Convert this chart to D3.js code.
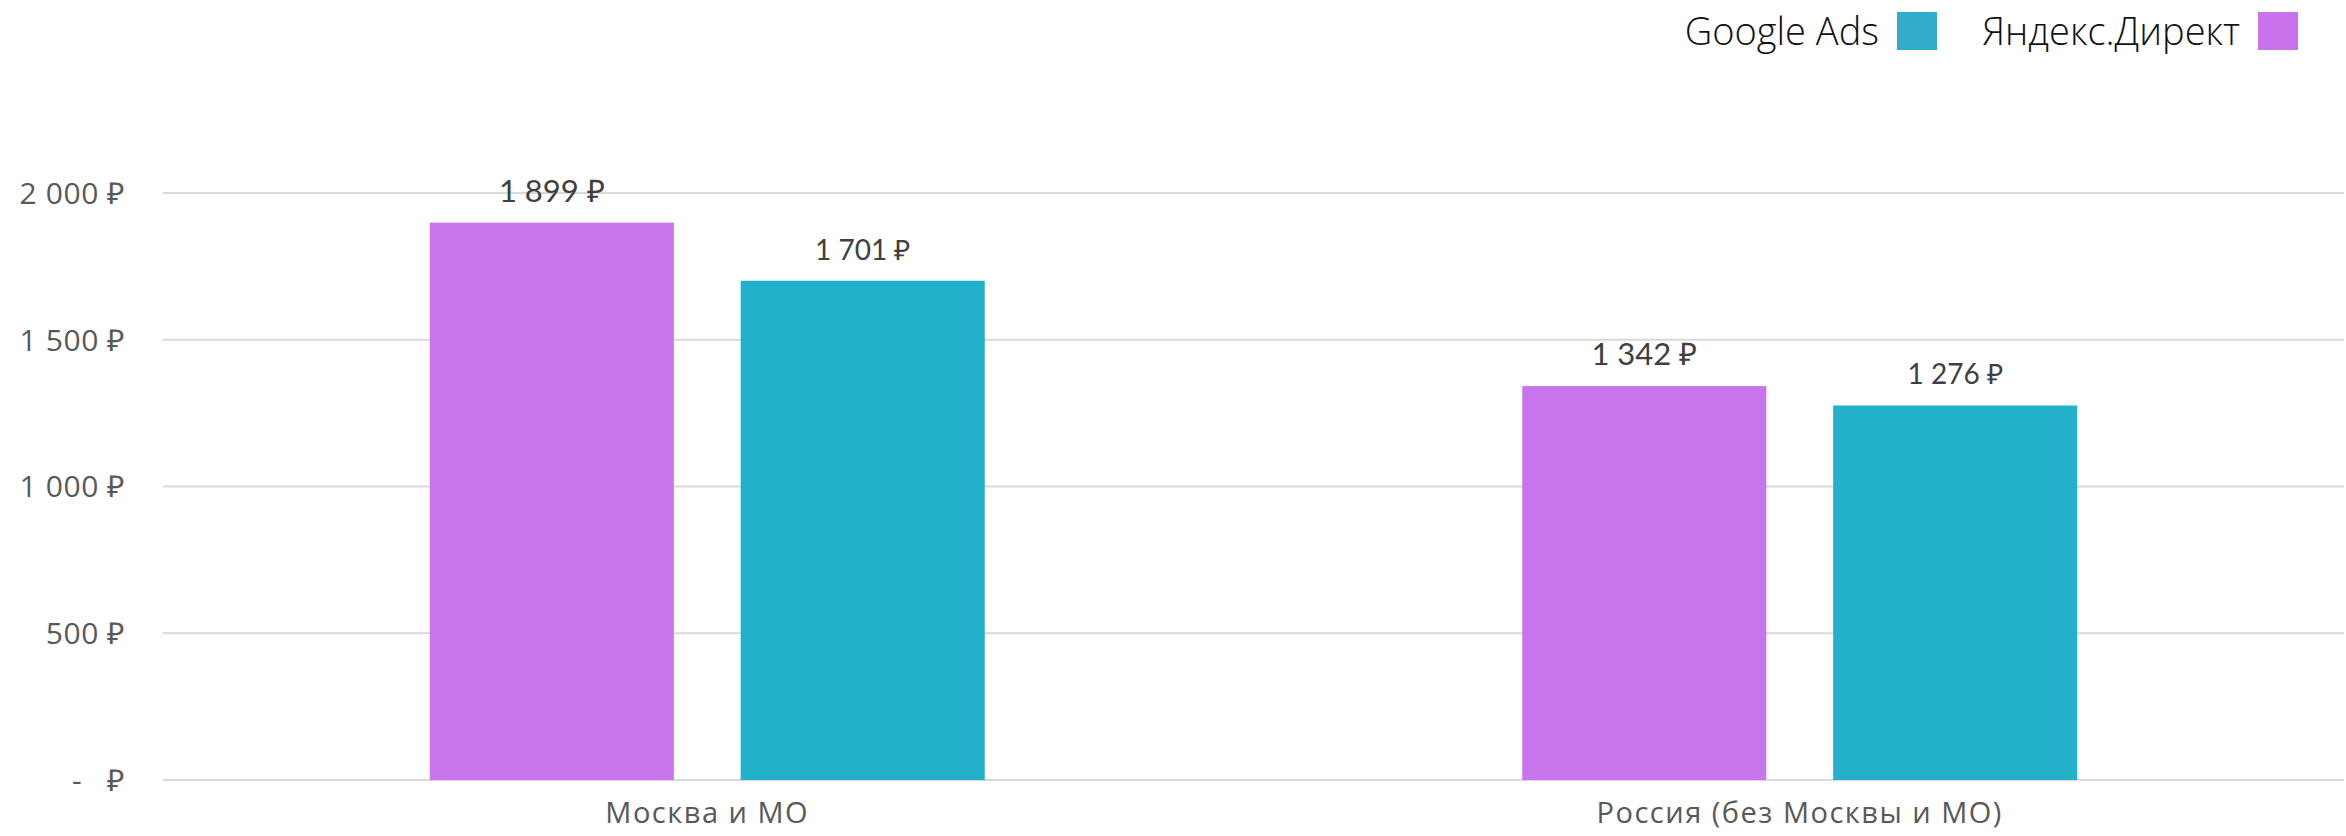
<!DOCTYPE html>
<html>
<head>
<meta charset="utf-8">
<script src="https://cdn.jsdelivr.net/npm/d3@7"></script>
<style>
  body { margin: 0; background: #fff; }
  svg { display: block; }
</style>
</head>
<body>
<div id="chart"></div>
<script>
// Chart data
var categories = ["Москва и МО", "Россия (без Москвы и МО)"];
var seriesNames = ["Яндекс.Директ", "Google Ads"];
var yandexValues = [1899, 1342];
var googleValues = [1701, 1276];
var yTicks = [0, 500, 1000, 1500, 2000];
var legendOrder = ["Google Ads", "Яндекс.Директ"];

// Setup Chart Dimensions
var svgWidth = 2346;
var svgHeight = 836;

var colors = { "Яндекс.Директ": "#c874ec", "Google Ads": "#22b0cb" };
var legendColors = { "Яндекс.Директ": "#c873ec", "Google Ads": "#33abcb" };
var labelSize = { "Яндекс.Директ": 31, "Google Ads": 28 };

var svg = d3.select("#chart")
  .append("svg")
  .attr("width", svgWidth)
  .attr("height", svgHeight);

// Scales
var yScale = d3.scaleLinear()
  .domain([0, 2000])
  .range([780, 193]);

var x0 = d3.scaleBand()
  .domain(categories)
  .range([161, 2346])
  .paddingInner(0.492)
  .paddingOuter(0.246);

var x1 = d3.scaleBand()
  .domain(seriesNames)
  .range([0, x0.bandwidth()])
  .paddingInner(0.215);

// Gridlines
svg.append("g")
  .selectAll("line")
  .data(yTicks)
  .enter()
  .append("line")
  .attr("x1", 163)
  .attr("x2", 2344)
  .attr("y1", d => yScale(d))
  .attr("y2", d => yScale(d))
  .attr("stroke", "#d9d9d9")
  .attr("stroke-width", 2);

// Y axis labels
var fmt = d3.formatLocale({ decimal: ",", thousands: "\u00a0", grouping: [3], currency: ["", ""] }).format(",");
svg.append("g")
  .selectAll("text")
  .data(yTicks)
  .enter()
  .append("text")
  .attr("x", 125)
  .attr("y", d => yScale(d))
  .attr("dy", "0.36em")
  .attr("text-anchor", "end")
  .attr("fill", "#595959")
  .style("font-family", "'Open Sans', sans-serif")
  .style("font-size", "30px")
  .style("letter-spacing", "0.6px")
  .style("white-space", "pre")
  .text(d => d === 0 ? "-   \u20bd" : fmt(d) + " \u20bd");

// Bars
var rows = categories.map(function(c, i) {
  return { category: c, values: [
    { name: "Яндекс.Директ", value: yandexValues[i] },
    { name: "Google Ads", value: googleValues[i] }
  ] };
});

var groups = svg.selectAll(".group")
  .data(rows)
  .enter()
  .append("g")
  .attr("class", "group")
  .attr("transform", d => `translate(${x0(d.category)}, 0)`);

groups.selectAll("rect")
  .data(d => d.values)
  .enter()
  .append("rect")
  .attr("x", d => x1(d.name))
  .attr("y", d => yScale(d.value))
  .attr("width", x1.bandwidth())
  .attr("height", d => yScale(0) - yScale(d.value))
  .attr("fill", d => colors[d.name]);

// Value labels
groups.selectAll(".val")
  .data(d => d.values)
  .enter()
  .append("text")
  .attr("class", "val")
  .attr("x", d => x1(d.name) + x1.bandwidth() / 2)
  .attr("y", d => yScale(d.value) - 21)
  .attr("text-anchor", "middle")
  .attr("fill", "#404040")
  .style("font-family", "Lato, 'Open Sans', sans-serif")
  .style("font-size", d => labelSize[d.name] + "px")
  .text(d => fmt(d.value) + " \u20bd");

// Category labels
svg.append("g")
  .selectAll("text")
  .data(categories)
  .enter()
  .append("text")
  .attr("x", d => x0(d) + x0.bandwidth() / 2)
  .attr("y", 823)
  .attr("text-anchor", "middle")
  .attr("fill", "#595959")
  .style("font-family", "'Open Sans', sans-serif")
  .style("font-size", "29px")
  .style("letter-spacing", "1.5px")
  .text(d => d);

// Legend (text then swatch, right aligned)
var legendTextEnd = [1879, 2240];
var legend = svg.append("g")
  .selectAll("g")
  .data(legendOrder)
  .enter()
  .append("g");

legend.append("text")
  .attr("x", (d, i) => legendTextEnd[i])
  .attr("y", 45)
  .attr("text-anchor", "end")
  .attr("fill", "#111")
  .style("font-family", "'Open Sans', sans-serif")
  .style("font-weight", 300)
  .style("font-size", "38px")
  .text(d => d);

legend.append("rect")
  .attr("x", (d, i) => legendTextEnd[i] + 18)
  .attr("y", 12)
  .attr("width", 40)
  .attr("height", 38)
  .attr("fill", d => legendColors[d]);
</script>
</body>
</html>
